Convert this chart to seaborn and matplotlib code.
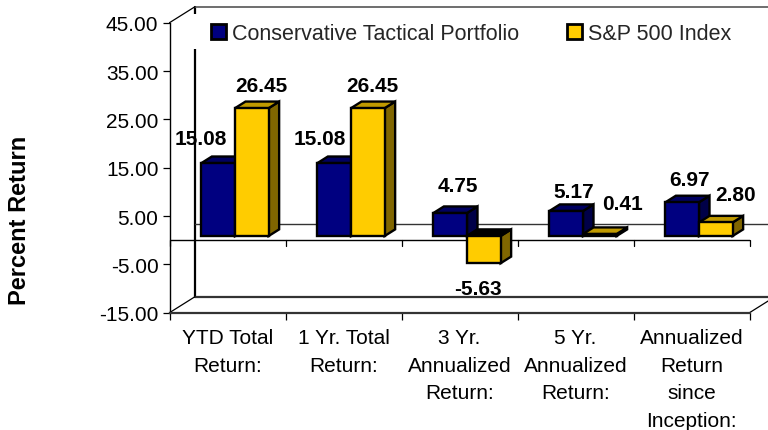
import seaborn as sns
import pandas as pd
import matplotlib.pyplot as plt
from matplotlib.patches import Polygon, Rectangle

# --- Data ---
categories = ["YTD Total\nReturn:", "1 Yr. Total\nReturn:", "3 Yr.\nAnnualized\nReturn:",
              "5 Yr.\nAnnualized\nReturn:", "Annualized\nReturn\nsince\nInception:"]
portfolio = [15.08, 15.08, 4.75, 5.17, 6.97]
sp500 = [26.45, 26.45, -5.63, 0.41, 2.80]
series_names = ["Conservative Tactical Portfolio", "S&P 500 Index"]
yticks = [-15, -5, 5, 15, 25, 35, 45]

# label offsets from the end of each bar, in pixels
portfolio_offsets = [(-17, 25), (-14, 25), (8, 28), (8, 20), (7, 23)]
sp500_offsets = [(10, 23), (5, 23), (-5.5, -25), (22.5, 31), (19.5, 28)]

colors = ["#000080", "#FFCC00"]
top_colors = ["#000060", "#C09A00"]
side_colors = ["#000048", "#806600"]

sns.set_theme(style="white")
plt.rcParams['font.family'] = ['Liberation Sans', 'DejaVu Sans']

df = pd.DataFrame({
    "category": categories * 2,
    "value": portfolio + sp500,
    "series": [series_names[0]] * 5 + [series_names[1]] * 5,
})

W, H = 768, 431
left, right, bottom, top = 169.5, 749.5, 313.7, 23.7
fig = plt.figure(figsize=(W / 100, H / 100), dpi=100)
ax = fig.add_axes([left / W, 1 - bottom / H, (right - left) / W, (bottom - top) / H])

sns.barplot(data=df, x="category", y="value", hue="series", palette=colors, width=0.58,
            edgecolor="black", linewidth=1.7, saturation=1, ax=ax, errorbar=None)
ax.set_xlim(-0.5, 4.5)
ax.set_ylim(-15, 45)

# pixel sizes to data units
px = 5 / (right - left)
py = 60 / (bottom - top)
wall_dx, wall_dy = 25.5 * px, 16 * py
bar_dx, bar_dy = 7.5 * px, 4.2 * py
depth_dx, depth_dy = 10.5 * px, 6.6 * py

# back wall and floor
wall = dict(color="#333333", clip_on=False, zorder=1)
ax.plot([-0.5 + wall_dx] * 2, [-15 + wall_dy, 45 + wall_dy], color="black", lw=1.6, clip_on=False, zorder=1)
ax.plot([-0.5 + wall_dx, 4.8], [45 + wall_dy] * 2, lw=1.2, color="#555555", clip_on=False, zorder=1)
ax.plot([-0.5 + wall_dx, 4.8], [-15 + wall_dy] * 2, lw=1.6, **wall)
ax.plot([-0.5 + wall_dx, 4.8], [wall_dy, wall_dy], lw=1.0, **wall)
ax.plot([-0.5, -0.5 + wall_dx], [-15, -15 + wall_dy], lw=0.9, color="black", clip_on=False, zorder=1)
ax.plot([-0.5, -0.5 + wall_dx], [45, 45 + wall_dy], lw=0.9, color="black", clip_on=False, zorder=1)
ax.plot([4.5, 4.5 + wall_dx], [-15, -15 + wall_dy], lw=0.9, color="black", clip_on=False, zorder=1)
ax.axhline(0, color="black", lw=1.0, zorder=1)

# the legend hides a stretch of the back wall line
ax.add_patch(Rectangle((190 / W, 1 - 50 / H), 10 / W, 35 / H, transform=fig.transFigure,
                       fc="white", ec="none", clip_on=False, zorder=2))

# front faces move into the floor, then get their 3D sides
offsets = portfolio_offsets + sp500_offsets
values = portfolio + sp500
bars = [b for c in ax.containers for b in c]
for n, (bar, val, off) in enumerate(zip(bars, values, offsets)):
    s = n // 5
    x0 = bar.get_x() + bar_dx
    x1 = x0 + bar.get_width()
    y0 = min(val, 0) + bar_dy
    y1 = max(val, 0) + bar_dy
    bar.set_x(x0)
    bar.set_y(y0)
    bar.set_height(y1 - y0)
    order = 3 + (n % 5) * 2 + s * 0.5
    bar.set_zorder(order + 0.2)
    side = [(x1, y0), (x1 + depth_dx, y0 + depth_dy), (x1 + depth_dx, y1 + depth_dy), (x1, y1)]
    cap = [(x0, y1), (x0 + depth_dx, y1 + depth_dy), (x1 + depth_dx, y1 + depth_dy), (x1, y1)]
    cap_color = top_colors[s] if val >= 0 else "black"  # the negative bar shows a dark cap
    ax.add_patch(Polygon(side, fc=side_colors[s], ec="black", lw=1.7, zorder=order))
    ax.add_patch(Polygon(cap, fc=cap_color, ec="black", lw=1.7, zorder=order))
    anchor = y1 if val >= 0 else y0
    ax.annotate(f"{val:.2f}", ((x0 + x1) / 2, anchor), xytext=off, textcoords="offset pixels",
                ha="center", va="center", fontsize=15, fontweight="bold", color="black", zorder=30)

# axes
sns.despine(ax=ax, top=True, right=True)
ax.spines["left"].set_linewidth(1.0)
ax.spines["left"].set_color("black")
ax.spines["bottom"].set_linewidth(1.6)
ax.spines["bottom"].set_color("#333333")
ax.set_yticks(yticks)
ax.set_yticklabels([f"{t:.2f}" for t in yticks], fontsize=15, color="black")
ax.set_xticks(range(5))
ax.set_xticklabels(categories, fontsize=15, color="black", linespacing=1.57, va="top")
ax.set_xticks([i - 0.5 for i in range(6)], minor=True)
ax.tick_params(axis="x", which="major", length=0, pad=11)
ax.tick_params(axis="x", which="minor", length=5, width=0.9, color="black", bottom=True)
ax.tick_params(axis="y", length=5, width=0.9, color="black", left=True, pad=3)
for x in range(6):
    ax.plot([x - 0.5, x - 0.5], [0, -5.5 * py], color="black", lw=0.9, clip_on=False, zorder=1)
ax.set_xlabel("")
ax.set_ylabel("")
fig.text(20 / W, 1 - 220 / H, "Percent Return", rotation=90, ha="center", va="center",
         fontsize=17, fontweight="bold", color="black")

handles, labels = ax.get_legend_handles_labels()
leg = ax.legend(handles, labels, ncols=2, loc="upper left", bbox_to_anchor=(211 / W, 1 - 24 / H),
                bbox_transform=fig.transFigure, frameon=False, fontsize=15.5, handlelength=0.68,
                handleheight=0.68, handletextpad=0.28, columnspacing=2.25, borderpad=0,
                borderaxespad=0)
for h in leg.legend_handles:
    h.set_linewidth(2)
leg.set_zorder(20)

plt.savefig("out.png", dpi=100)
